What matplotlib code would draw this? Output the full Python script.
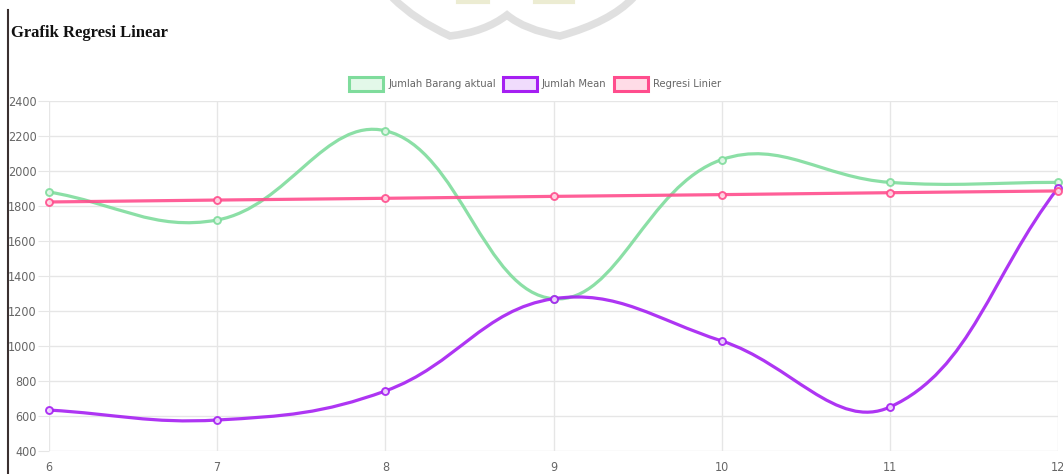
import numpy as np
import matplotlib
matplotlib.use("Agg")
import matplotlib.pyplot as plt
from matplotlib import font_manager
from matplotlib.font_manager import FontProperties
from matplotlib.path import Path
from matplotlib.patches import PathPatch, Rectangle
from matplotlib.lines import Line2D

# data bulan dan jumlah barang
bulan = [6, 7, 8, 9, 10, 11, 12]
jumlah_aktual = [1880, 1720, 2230, 1270, 2065, 1935, 1935]
jumlah_mean = [634, 577, 743, 1270, 1029, 651, 1903]
regresi = [1823, 1834, 1844, 1855, 1865, 1876, 1886]

label_seri = ["Jumlah Barang aktual", "Jumlah Mean", "Regresi Linier"]
warna_garis = ["#7fdc9c", "#a51ff2", "#ff4d8d"]
warna_isi = ["#e3f8e9", "#f0dcfd", "#ffdce7"]

y_ticks = list(range(400, 2401, 200))

W, H = 1063, 474


def cari_font_sempit():
    # pakai font sans yang condensed/narrow kalau ada
    kandidat = []
    for f in font_manager.fontManager.ttflist:
        nama = f.name.lower()
        sempit = ("narrow" in nama or "condensed" in nama
                  or str(f.stretch) in ("condensed", "semi-condensed", "extra-condensed"))
        if sempit and "serif" not in nama and "mono" not in nama and f.style == "normal":
            w = f.weight if isinstance(f.weight, int) else 400
            if w <= 400:
                kandidat.append((abs(w - 400), f.fname))
    if kandidat:
        kandidat.sort()
        return FontProperties(fname=kandidat[0][1])
    return FontProperties(family="Liberation Sans")


fp_sempit = cari_font_sempit()

fig = plt.figure(figsize=(W / 100, H / 100), dpi=100)
fig.patch.set_facecolor("white")


def px(x0, y0, w, h):
    # kotak dalam piksel (dari kiri atas) -> koordinat figure
    return [x0 / W, 1 - (y0 + h) / H, w / W, h / H]


ax = fig.add_axes(px(49, 101, 1009, 350))
ax.set_xlim(6, 12)
ax.set_ylim(400, 2400)
ax.set_xticks(bulan)
ax.set_yticks(y_ticks)
ax.grid(True, color="#e6e6e6", linewidth=1)
ax.set_axisbelow(True)
for s in ax.spines.values():
    s.set_visible(False)
ax.tick_params(axis="y", length=8, color="#e6e6e6", labelcolor="#666666", pad=1)
ax.tick_params(axis="x", length=0, labelcolor="#666666", pad=7)
for lab in ax.get_xticklabels() + ax.get_yticklabels():
    lab.set_fontproperties(fp_sempit)
    lab.set_fontsize(9)


def kurva(xs, ys, t=0.4):
    # spline bezier ala chart.js (tension 0.4), dihitung di ruang piksel
    tr = ax.transData
    p = tr.transform(np.column_stack([xs, ys]))
    n = len(p)
    c_prev, c_next = [], []
    for i in range(n):
        a = p[i - 1] if i > 0 else p[i]
        b = p[i]
        c = p[i + 1] if i < n - 1 else p[i]
        d01 = np.hypot(*(b - a))
        d12 = np.hypot(*(c - b))
        tot = d01 + d12
        s01 = d01 / tot if tot else 0
        s12 = d12 / tot if tot else 0
        c_prev.append(b - t * s01 * (c - a))
        c_next.append(b + t * s12 * (c - a))
    verts = [p[0]]
    codes = [Path.MOVETO]
    for i in range(1, n):
        verts += [c_next[i - 1], c_prev[i], p[i]]
        codes += [Path.CURVE4] * 3
    verts = tr.inverted().transform(np.array(verts))
    return Path(verts, codes)


# urutan gambar: dataset terakhir di bawah
semua = [jumlah_aktual, jumlah_mean, regresi]
for k in [2, 1, 0]:
    ys = semua[k]
    ax.add_patch(PathPatch(kurva(bulan, ys), facecolor="none", edgecolor=warna_garis[k],
                           linewidth=2.3, alpha=0.9, zorder=3 + k * 0.1, clip_on=False))
    ax.plot(bulan, ys, linestyle="none", marker="o", markersize=5,
            markerfacecolor=warna_isi[k], markeredgecolor=warna_garis[k],
            markeredgewidth=1.4, alpha=0.9, zorder=3.05 + k * 0.1, clip_on=False)

# legenda di atas grafik, ditengahkan
renderer = fig.canvas.get_renderer()
teks_leg = []
for k in range(3):
    t = fig.text(0, 1 - 84 / H, label_seri[k], color="#666666", fontproperties=fp_sempit,
                 fontsize=8, va="center", ha="left")
    teks_leg.append(t)
lebar = [t.get_window_extent(renderer).width for t in teks_leg]
kotak_w, sela_teks, sela_item = 34, 5, 7
total = sum(kotak_w + sela_teks + w for w in lebar) + sela_item * 2
x = 535 - total / 2
for k in range(3):
    fig.patches.append(Rectangle((x / W, 1 - 91 / H), kotak_w / W, 14 / H,
                                 transform=fig.transFigure, facecolor=warna_isi[k],
                                 edgecolor=warna_garis[k], linewidth=2.2))
    teks_leg[k].set_x((x + kotak_w + sela_teks) / W)
    x += kotak_w + sela_teks + lebar[k] + sela_item

# judul
fig.text(11 / W, 1 - 33 / H, "Grafik Regresi Linear", family="Liberation Serif",
         fontweight="bold", fontsize=12, color="#111111", va="center", ha="left")

# garis tepi kiri
fig.add_artist(Line2D([8 / W, 8 / W], [0, 1 - 10 / H], transform=fig.transFigure,
                      color="#3a3030", linewidth=1.5))

# logo samar di atas
logo = [(393, -2), (415, 20), (450, 36), (485, 32), (507, 15),
        (525, 30), (560, 36), (610, 22), (633, -2)]
kode = [Path.MOVETO] + [Path.CURVE3] * 8
pts = np.array([[lx / W, 1 - ly / H] for lx, ly in logo])
fig.patches.append(PathPatch(Path(pts, kode), transform=fig.transFigure,
                             facecolor="none", edgecolor="#d9d9d9", linewidth=5.5,
                             alpha=0.8, capstyle="round"))
for x0, x1 in [(458, 488), (535, 573)]:
    fig.add_artist(Line2D(np.array([x0, x1]) / W, 1 - np.array([1.5, 1.5]) / H,
                          transform=fig.transFigure, color="#ececd2", linewidth=3))

fig.savefig("out.png", dpi=100)
